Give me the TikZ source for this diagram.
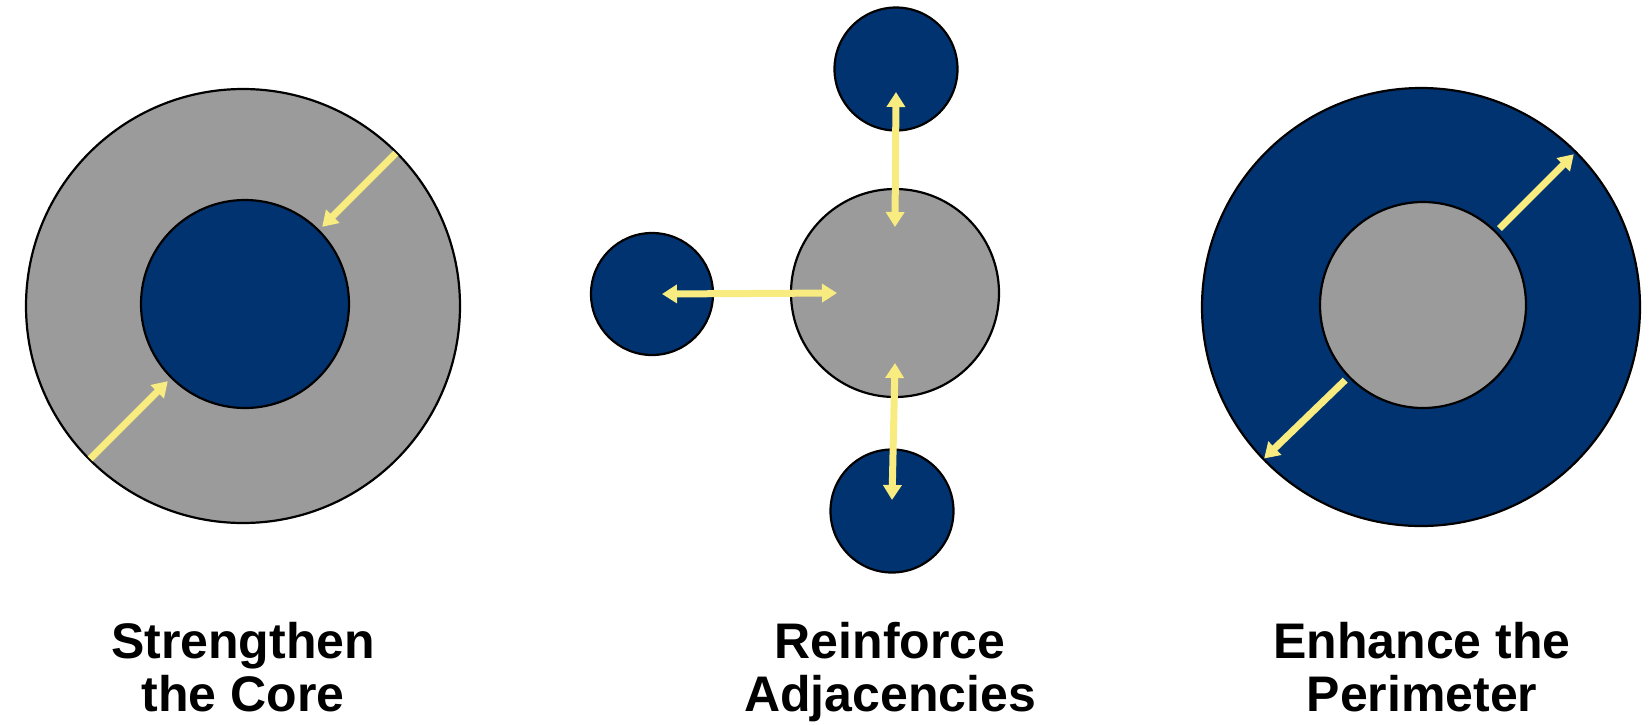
\documentclass[tikz,border=0pt]{standalone}
\usepackage{fontspec}
\setmainfont{Liberation Sans}
\usetikzlibrary{arrows.meta,calc}
\definecolor{navy}{RGB}{0,51,111}
\definecolor{midgray}{RGB}{155,155,155}
\definecolor{paleyellow}{RGB}{248,236,128}
\tikzset{
  disc/.style={circle, draw=black, line width=2.2pt, inner sep=0pt, minimum size=#1},
  navydisc/.style={disc=#1, fill=navy},
  graydisc/.style={disc=#1, fill=midgray},
  yarrow/.style={draw=paleyellow, line width=7pt,
    -{Triangle[width=18pt,length=15pt]}},
  ydouble/.style={draw=paleyellow, line width=7pt,
    {Triangle[width=18pt,length=15pt]}-{Triangle[width=18pt,length=15pt]}},
  caption/.style={font=\bfseries\fontsize{50}{53}\selectfont, align=center, anchor=base, inner sep=0pt}
}
\begin{document}
\begin{tikzpicture}[x=1pt,y=-1pt]
\useasboundingbox (0,0) rectangle (1651,724);
% left: strengthen the core
\node[graydisc=434pt] (outerL) at (243,306) {};
\node[navydisc=208pt] (innerL) at (245,304) {};
\draw[yarrow, shorten <=2pt, shorten >=4pt] (outerL.45) -- (innerL.45);
\draw[yarrow, shorten <=2pt, shorten >=4pt] (outerL.225) -- (innerL.225);
% middle: reinforce adjacencies
\node[graydisc=208pt] (hub) at (895,293) {};
\node[navydisc=123pt] (topc) at (896,69) {};
\node[navydisc=122pt] (leftc) at (652,294) {};
\node[navydisc=123pt] (botc) at (892,511) {};
\coordinate (t1) at ([yshift=-23pt]topc.center);
\coordinate (t2) at ([yshift=66pt]hub.center);
\coordinate (l1) at ([xshift=10pt]leftc.center);
\coordinate (l2) at ([xshift=-58pt]hub.center);
\coordinate (b1) at ([yshift=-70pt]hub.center);
\coordinate (b2) at ([yshift=11pt]botc.center);
\draw[ydouble] (t1) -- (t2);
\draw[ydouble] (l1) -- (l2);
\draw[ydouble] (b1) -- (b2);
% right: enhance the perimeter
\node[navydisc=438pt] (outerR) at (1421,307) {};
\node[graydisc=206pt] (innerR) at (1423,305) {};
\draw[yarrow, shorten <=4pt, shorten >=4pt] (innerR.45) -- (outerR.45);
\draw[yarrow, shorten <=4pt, shorten >=2pt] (innerR.224) -- (outerR.224);
% captions
\node[caption] (capL) at (243,711) {Strengthen\\the Core};
\node[caption] (capM) at (890,711) {Reinforce\\Adjacencies};
\node[caption] (capR) at (1422,711) {Enhance the\\Perimeter};
\end{tikzpicture}
\end{document}
